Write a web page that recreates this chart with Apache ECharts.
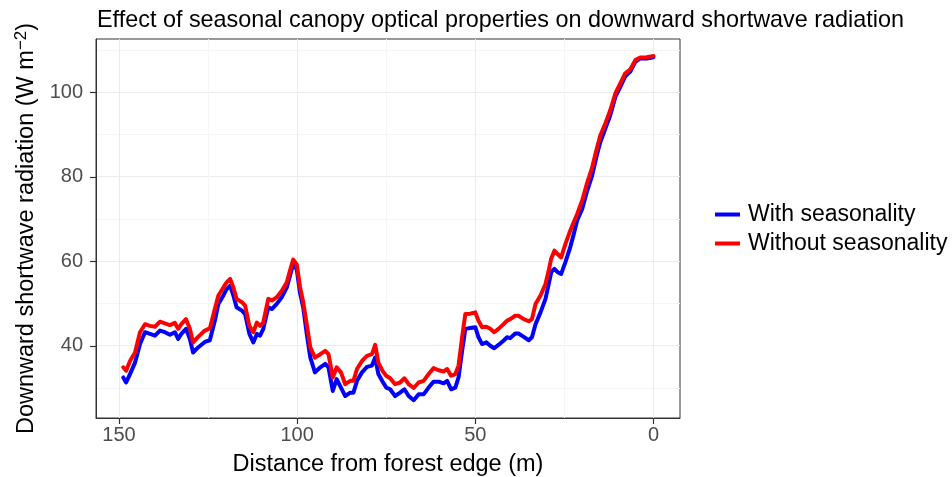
<!DOCTYPE html>
<html>
<head>
<meta charset="utf-8">
<script src="https://cdn.jsdelivr.net/npm/echarts@6/dist/echarts.min.js"></script>
<style>html,body{margin:0;padding:0;background:#fff}#c{width:952px;height:477px}</style>
</head>
<body>
<div id="c"></div>
<script>
// Distance from forest edge (m)
const distance = [148.8,148.0,146.9,145.5,144.1,142.7,141.3,139.9,138.5,137.1,135.7,134.3,133.4,132.5,131.2,130.1,129.2,127.8,125.9,124.5,123.1,122.1,120.7,119.8,118.8,117.9,117.0,115.5,114.6,113.4,112.3,111.3,110.4,109.5,108.1,107.1,105.7,104.3,102.9,102.0,101.1,100.1,99.2,98.3,97.3,96.3,95.0,93.5,92.1,91.2,90.0,88.9,87.7,86.5,85.1,84.2,83.2,81.8,80.4,79.0,78.1,77.2,76.0,75.0,73.9,72.5,71.1,69.9,68.7,67.3,65.9,64.5,63.1,61.7,60.3,58.9,57.9,56.8,55.6,54.7,53.7,52.8,51.4,50.0,49.1,48.1,46.9,45.8,44.7,43.5,42.1,41.1,40.2,38.8,37.9,36.4,35.0,34.1,33.1,31.7,30.3,29.4,28.7,27.8,26.9,25.9,24.7,23.5,22.5,21.4,20.0,18.7,17.3,15.9,14.9,13.5,12.1,10.7,9.3,7.9,6.5,5.1,3.7,1.9,0];
const withSeasonality = [32.5,31.3,33.3,36.0,40.4,43.2,42.8,42.4,43.6,43.2,42.6,43.2,41.6,42.8,44.0,41.6,38.4,39.6,40.9,41.3,45.9,49.9,51.9,53.4,54.2,51.9,49.1,48.3,47.5,42.8,40.8,42.8,42.4,44.0,49.1,48.7,49.9,51.5,53.8,56.6,59.4,58.0,52.5,49.1,42.8,37.2,33.7,34.9,35.7,34.9,29.3,32.1,30.1,28.1,28.9,28.9,31.7,33.7,35.0,35.3,37.2,33.3,31.5,30.1,29.7,28.1,28.9,29.7,28.1,27.1,28.5,28.5,30.1,31.5,31.5,31.1,31.7,29.7,30.1,32.5,38.8,44.0,44.2,44.4,42.0,40.4,40.8,40.0,39.4,40.2,41.2,42.0,41.8,42.9,42.9,42.1,41.3,42.0,45.1,47.9,51.1,54.6,57.4,58.2,57.4,57.0,59.8,62.9,66.0,69.7,72.4,76.4,80.0,85.1,88.2,91.4,94.6,98.9,101.3,103.8,104.9,107.2,108.0,108.0,108.3];
const withoutSeasonality = [34.9,34.1,36.4,38.4,43.2,45.1,44.7,44.5,45.7,45.3,44.9,45.4,44.0,45.1,46.3,44.0,40.8,42.1,43.6,44.1,48.7,51.9,53.8,55.0,55.8,53.8,51.1,50.3,49.5,44.7,43.2,45.5,44.7,45.5,51.1,50.7,51.5,53.0,55.0,57.8,60.4,59.2,54.0,50.3,45.1,39.6,37.2,38.0,38.8,38.0,32.5,34.9,33.7,30.9,31.7,31.7,34.5,36.4,37.6,38.0,40.2,36.0,34.0,32.9,32.3,30.9,31.3,32.3,30.9,30.0,31.3,31.7,33.3,34.7,34.2,33.9,34.5,32.9,33.3,35.3,42.0,47.5,47.6,47.9,45.9,44.4,44.5,44.0,43.2,44.0,45.1,45.9,46.3,47.1,47.1,46.3,45.8,46.3,49.9,51.9,54.6,57.8,60.6,62.5,61.7,60.9,64.1,66.9,69.0,71.2,74.4,78.3,81.9,86.7,89.8,92.6,95.8,99.7,102.1,104.5,105.4,107.6,108.2,108.3,108.6];
const xTicks = [0, 50, 100, 150];
const xMinorTicks = [25, 75, 125];
const yTicks = [40, 60, 80, 100];
const yMinorTicks = [30, 50, 70, 90, 110];
const seriesNames = ['With seasonality', 'Without seasonality'];
const chartTitle = 'Effect of seasonal canopy optical properties on downward shortwave radiation';
const xTitle = 'Distance from forest edge (m)';

const toPairs = vals => distance.map((d, i) => [d, vals[i]]);
const FONT = 'Liberation Sans, Arial, Helvetica, sans-serif';
const X_MIN = -7.45, X_MAX = 156.45, Y_MIN = 22.9, Y_MAX = 112.6;
const TICK_COLOR = '#333333';
const TICK_LEN = 6;

// Tick marks drawn as a custom series, positioned by the axes' own scales
const tickItems = xTicks.map(v => [v, Y_MIN, 0]).concat(yTicks.map(v => [X_MAX, v, 1]));
function renderTick(params, api) {
  const p = api.coord([api.value(0), api.value(1)]);
  const x = Math.round(p[0]) + 0.5, y = Math.round(p[1]) + 0.5;
  const isX = api.value(2) === 0;
  return {
    type: 'line', silent: true,
    shape: isX ? {x1: x, y1: Math.round(p[1]), x2: x, y2: Math.round(p[1]) + TICK_LEN}
               : {x1: Math.round(p[0]) - TICK_LEN, y1: y, x2: Math.round(p[0]), y2: y},
    style: {stroke: TICK_COLOR, lineWidth: 1.2}
  };
}

const chart = echarts.init(document.getElementById('c'), null, {renderer: 'canvas'});
chart.setOption({
  animation: false,
  backgroundColor: '#ffffff',
  textStyle: {fontFamily: FONT},
  title: {
    text: chartTitle, left: 92, top: 4,
    textStyle: {fontSize: 23.4, fontWeight: 'normal', color: '#000', fontFamily: FONT}
  },
  grid: {left: 96, right: 272, top: 39, bottom: 59, containLabel: false, outerBoundsMode: 'none',
    show: true, borderColor: TICK_COLOR, borderWidth: 1, backgroundColor: 'transparent'},
  legend: {
    orient: 'vertical', left: 710, top: 198, itemGap: 6,
    itemWidth: 25, itemHeight: 4, icon: 'rect',
    textStyle: {fontSize: 23, color: '#000', fontFamily: FONT, padding: [0,0,0,3]},
    data: seriesNames
  },
  xAxis: [{
    type: 'value', inverse: true, min: X_MIN, max: X_MAX,
    axisLine: {show: true, onZero: false, lineStyle: {color: TICK_COLOR, width: 1}},
    axisTick: {show: false, customValues: xTicks},
    axisLabel: {show: true, customValues: xTicks, fontSize: 20, color: '#4d4d4d', margin: 7, fontFamily: FONT},
    splitLine: {show: true, lineStyle: {color: '#ebebeb', width: 1}},
    name: xTitle, nameLocation: 'middle', nameGap: 35,
    nameTextStyle: {fontSize: 23.5, color: '#000', fontFamily: FONT}
  }, {
    type: 'value', inverse: true, min: X_MIN, max: X_MAX, position: 'bottom',
    axisLine: {show: false, onZero: false},
    axisTick: {show: false, customValues: xMinorTicks},
    axisLabel: {show: false, customValues: xMinorTicks},
    splitLine: {show: true, lineStyle: {color: '#f5f5f5', width: 1}}
  }],
  yAxis: [{
    type: 'value', min: Y_MIN, max: Y_MAX, position: 'left',
    axisLine: {show: true, onZero: false, lineStyle: {color: TICK_COLOR, width: 1}},
    axisTick: {show: false, customValues: yTicks},
    axisLabel: {show: true, customValues: yTicks, fontSize: 20, color: '#4d4d4d', margin: 13, fontFamily: FONT},
    splitLine: {show: true, lineStyle: {color: '#ebebeb', width: 1}},
    name: 'Downward shortwave radiation (W m{sup|−2})', nameLocation: 'middle', nameGap: 55,
    nameTextStyle: {fontSize: 23.5, color: '#000', fontFamily: FONT,
      rich: {sup: {fontSize: 17, verticalAlign: 'bottom', padding: [0,0,11,0], color: '#000', fontFamily: FONT}}}
  }, {
    type: 'value', min: Y_MIN, max: Y_MAX, position: 'left',
    axisLine: {show: false, onZero: false},
    axisTick: {show: false, customValues: yMinorTicks},
    axisLabel: {show: false, customValues: yMinorTicks},
    splitLine: {show: true, lineStyle: {color: '#f5f5f5', width: 1}}
  }],
  series: [{
    name: seriesNames[0], type: 'line', data: toPairs(withSeasonality),
    showSymbol: false, symbol: 'none', color: '#0000ff',
    lineStyle: {color: '#0000ff', width: 4, join: 'round', cap: 'round'}, z: 3
  }, {
    name: seriesNames[1], type: 'line', data: toPairs(withoutSeasonality),
    showSymbol: false, symbol: 'none', color: '#ff0000',
    lineStyle: {color: '#ff0000', width: 4, join: 'round', cap: 'round'}, z: 4
  }, {
    type: 'custom', name: 'ticks', data: tickItems, renderItem: renderTick,
    clip: false, silent: true, z: 10, tooltip: {show: false}
  }]
});
</script>
</body>
</html>
